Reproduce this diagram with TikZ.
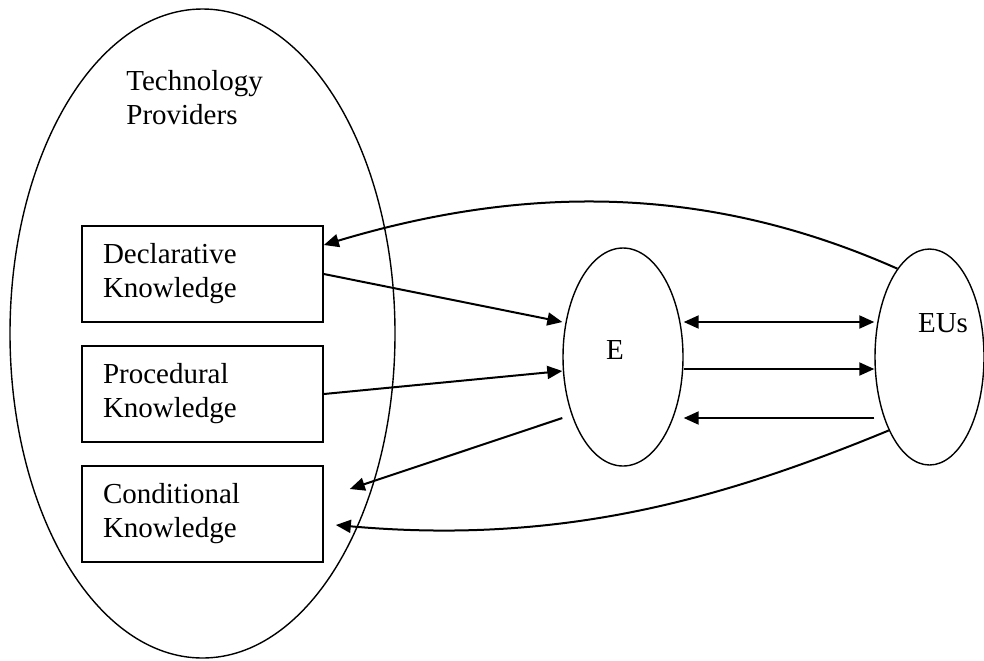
\documentclass[tikz,border=0pt]{standalone}
\usepackage{fontspec}
\setmainfont{Liberation Serif}
\usepackage{tikz}
\usetikzlibrary{shapes.geometric, positioning, arrows.meta, calc}

\begin{document}
\begin{tikzpicture}[x=0.5pt, y=-0.5pt, >={Triangle[length=7.5pt,width=6.5pt]},
        font=\fontsize{14.5pt}{17pt}\selectfont, node distance=60pt,
        kbox/.style={draw, line width=0.85pt, text width=99.5pt, inner xsep=10.5pt,
            minimum height=48pt, align=left},
        blob/.style={draw, ellipse, line width=0.7pt, inner sep=0pt},
        link/.style={->, line width=1pt}]

    \useasboundingbox (0,0) rectangle (984,660);

    % --- Provider group ---
    \node[blob, minimum width=192.5pt, minimum height=324.5pt] (TP) at (202.5,333.5) {};
    \node[align=left, anchor=north west, inner sep=0pt] (TPlbl) at (126,70) {Technology\\Providers};

    % --- Knowledge boxes ---
    \node[kbox] (Dec) at (202.5,274) {Declarative\\Knowledge};
    \node[kbox] (Pro) [below of=Dec] {Procedural\\Knowledge};
    \node[kbox] (Con) [below of=Pro] {Conditional\\Knowledge};

    % --- E and EUs ---
    \node[blob, minimum width=60pt, minimum height=109pt] (E) at (623,357) {};
    \node[blob, minimum width=54.5pt, minimum height=108pt] (EUs) at (929.5,357) {};
    \node (Elbl) at (615,350) {E};
    \node (EUslbl) at (943,323) {EUs};

    % --- Links ---
    \draw[link] (EUs.110) .. controls (720,190) and (540,180) .. ($(Dec.east)+(0,-29)$);
    \draw[link] (Dec.east) -- ($(E.west)+(0,-35)$);
    \draw[link] (Pro.east) -- ($(E.west)+(0,14)$);
    \draw[link] ($(E.west)+(0,61)$) -- ($(Con.east)+(26,-25)$);
    \draw[link] (EUs.241) .. controls (720,500) and (560,545) .. ($(Con.east)+(12,11)$);

    \draw[link, <->] ($(E.east)+(0,-35)$) -- ($(EUs.west)+(0,-35)$);
    \draw[link] ($(E.east)+(0,12)$) -- ($(EUs.west)+(0,12)$);
    \draw[link] ($(EUs.west)+(0,61)$) -- ($(E.east)+(0,61)$);

\end{tikzpicture}
\end{document}
